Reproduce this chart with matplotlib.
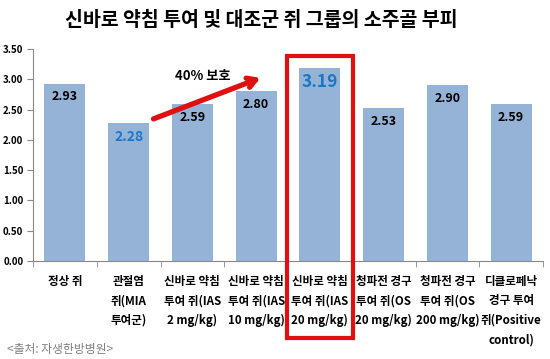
import matplotlib.pyplot as plt
from matplotlib.patches import Rectangle
import numpy as np

plt.rcParams['font.family'] = ['Noto Sans CJK KR', 'DejaVu Sans']

# data
groups = ["정상 쥐", "관절염\n쥐(MIA\n투여군)", "신바로 약침\n투여 쥐(IAS\n2 mg/kg)",
          "신바로 약침\n투여 쥐(IAS\n10 mg/kg)", "신바로 약침\n투여 쥐(IAS\n20 mg/kg)",
          "청파전 경구\n투여 쥐(OS\n20 mg/kg)", "청파전 경구\n투여 쥐(OS\n200 mg/kg)",
          "디클로페낙\n경구 투여\n쥐(Positive\ncontrol)"]
volume = [2.93, 2.28, 2.59, 2.80, 3.19, 2.53, 2.90, 2.59]
highlight = [1, 4]
yticks = [0, 0.5, 1.0, 1.5, 2.0, 2.5, 3.0, 3.5]

fig = plt.figure(figsize=(5.5, 3.59), dpi=100)
ax = fig.add_axes([33/550, 98/359, 510/550, 212/359])

x = np.arange(len(volume))
ax.bar(x, volume, width=0.64, color="#95b3d7", zorder=2)
ax.set_xlim(-0.5, len(volume) - 0.5)
ax.set_ylim(0, 3.5)
ax.set_yticks(yticks)
ax.set_yticklabels(["%.2f" % t for t in yticks], fontsize=7, fontweight="bold")

ax.set_xticks(x)
ax.set_xticklabels(groups, fontsize=8.3, fontweight="bold", linespacing=1.65, va="top")
ax.tick_params(axis="x", length=0, pad=10)
ax.set_xticks(np.arange(len(volume) + 1) - 0.5, minor=True)
ax.tick_params(axis="x", which="minor", length=4, color="#888888")
ax.tick_params(axis="y", length=4, color="#888888", pad=3)
for s in ["top", "right"]:
    ax.spines[s].set_visible(False)
for s in ["left", "bottom"]:
    ax.spines[s].set_color("#888888")

for i, v in enumerate(volume):
    if i in highlight:
        fs = 10 if i == 1 else 12.5
        ax.text(i, v - 0.24, "%.2f" % v, ha="center", va="center", fontsize=fs,
                fontweight="bold", color="#1f74c4", zorder=3)
    else:
        ax.text(i, v - 0.22, "%.2f" % v, ha="center", va="center", fontsize=9,
                fontweight="bold", color="black", zorder=3)

# red highlight box around the IAS 20 mg/kg bar
ax.add_patch(Rectangle((3.48, -1.27), 1.035, 4.66, fill=False, edgecolor="#e01010",
                       linewidth=3, clip_on=False, zorder=4))

# arrow
ax.annotate("", xy=(3.11, 3.04), xytext=(1.35, 2.33),
            arrowprops=dict(arrowstyle="->,head_length=0.6,head_width=0.35",
                            color="#e01010", lw=3.8), zorder=4)
ax.text(2.17, 3.05, "40% 보호", ha="center", va="center", fontsize=9.5,
        fontweight="bold", zorder=4)

fig.text(261/550, 1 - 20/359, "신바로 약침 투여 및 대조군 쥐 그룹의 소주골 부피", ha="center",
         va="center", fontsize=14, fontweight="bold")
fig.text(7/550, 1 - 350/359, "<출처: 자생한방병원>", ha="left", va="center",
         fontsize=8.5, color="#808080")

fig.savefig("out.png", dpi=100)
